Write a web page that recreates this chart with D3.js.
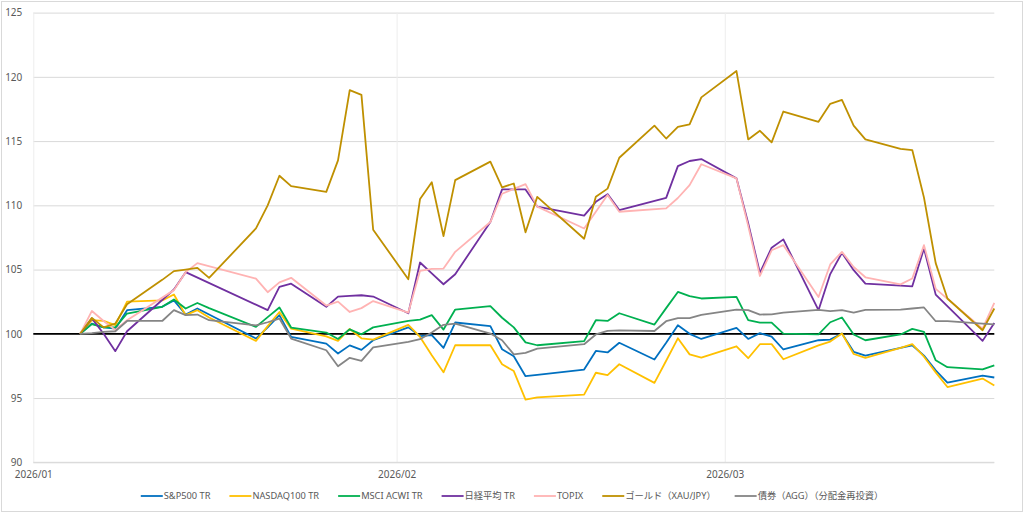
<!DOCTYPE html>
<html>
<head>
<meta charset="utf-8">
<script src="https://cdn.jsdelivr.net/npm/d3@7"></script>
<style>
  body { margin: 0; background: #fff; }
  text { font-family: "Noto Sans", "Noto Sans CJK JP", sans-serif; }
</style>
</head>
<body>
<div class="viz"></div>
<script>
const width = 1024;
const height = 513;

// trading days on the x axis
const dates = [
  "2026-01-05","2026-01-06","2026-01-07","2026-01-08","2026-01-09",
  "2026-01-12","2026-01-13","2026-01-14","2026-01-15","2026-01-16",
  "2026-01-19","2026-01-20","2026-01-21","2026-01-22","2026-01-23",
  "2026-01-26","2026-01-27","2026-01-28","2026-01-29","2026-01-30",
  "2026-02-02","2026-02-03","2026-02-04","2026-02-05","2026-02-06",
  "2026-02-09","2026-02-10","2026-02-11","2026-02-12","2026-02-13",
  "2026-02-16","2026-02-17","2026-02-18","2026-02-19","2026-02-20",
  "2026-02-23","2026-02-24","2026-02-25","2026-02-26","2026-02-27",
  "2026-03-02","2026-03-03","2026-03-04","2026-03-05","2026-03-06",
  "2026-03-09","2026-03-10","2026-03-11","2026-03-12","2026-03-13",
  "2026-03-16","2026-03-17","2026-03-18","2026-03-19","2026-03-20",
  "2026-03-23","2026-03-24"
];

// null = no value that day (holiday), the line just connects over it
const sp500 = [
  100, 100.8, 100.5, 100.4, 101.84,
  102.1, 102.6, 101.5, 101.97, 101.5,
  null, 99.63, 100.5, 101.45, 99.76,
  99.24, 98.47, 99.1, 98.75, 99.5,
  100.5, 99.82, 99.9, 98.9, 100.88,
  100.6, 98.8, 98.25, 96.7, 96.8,
  null, 97.22, 98.67, 98.55, 99.3,
  98.0, 99.3, 100.67, 100.0, 99.6,
  100.46, 99.6, 100.05, 99.78, 98.78,
  99.5, 99.55, 100.02, 98.6, 98.3,
  98.9, 99.11, 98.3, 97.15, 96.2,
  96.75, 96.6
];
const nasdaq100 = [
  100, 101.06, 101.0, 100.67, 102.5,
  102.6, 103.06, 101.45, 101.84, 101.27,
  null, 99.45, 100.6, 101.7, 100.4,
  99.8, 99.45, 100.38, 99.65, 99.55,
  100.7, 99.76, 98.33, 97.0, 99.11,
  99.11, 97.63, 97.1, 94.88, 95.05,
  null, 95.27, 96.97, 96.78, 97.63,
  96.18, 97.9, 99.65, 98.4, 98.15,
  99.03, 98.1, 99.19, 99.2, 98.02,
  99.1, 99.4, 100.02, 98.43, 98.13,
  98.9, 99.19, 98.22, 97.0, 95.86,
  96.52, 95.98
];
const acwi = [
  100, 100.75, 100.5, 100.5, 101.58,
  102.1, 102.67, 101.97, 102.4, 102.0,
  null, 100.54, 101.3, 102.05, 100.49,
  100.1, 99.6, 100.35, 99.96, 100.5,
  101.0, 101.11, 101.45, 100.33, 101.89,
  102.15, 101.25, 100.5, 99.33, 99.11,
  null, 99.43, 101.06, 101.0, 101.6,
  100.72, 102.0, 103.26, 102.93, 102.75,
  102.87, 101.06, 100.87, 100.87, 100.02,
  99.95, 100.9, 101.27, 99.95, 99.5,
  99.95, 100.38, 100.15, 97.94, 97.4,
  97.23, 97.55
];
const nikkei = [
  100, 101.2, 100.0, 98.65, 100.2,
  null, 103.45, 104.8, null, null,
  null, null, 101.84, 103.65, 103.9,
  102.1, 102.9, 102.95, 103.0, 102.9,
  101.6, 105.55, 104.7, 103.86, 104.64,
  108.7, 111.24, null, 111.24, 109.9,
  null, 109.2, 110.27, 110.87, 109.63,
  null, 110.58, 113.05, 113.45, 113.6,
  112.1, 108.6, 104.75, 106.7, 107.35,
  101.84, 104.65, 106.3, 104.95, 103.9,
  103.75, 103.7, 106.64, 103.05, null,
  99.45, 100.85
];
const topix = [
  100, 101.78, 101.0, 100.3, 101.06,
  null, 103.4, 104.8, 105.5, null,
  null, 104.3, 103.24, 104.0, 104.36,
  102.2, 102.5, 101.7, 102.0, 102.55,
  101.65, 104.9, 105.05, 105.08, 106.38,
  108.7, 110.9, null, 111.65, 109.9,
  null, 108.2, 109.5, 110.8, 109.5,
  null, 109.76, 110.57, 111.57, 113.2,
  112.1, 108.4, 104.5, 106.5, 106.9,
  102.87, 105.4, 106.38, 105.2, 104.4,
  103.85, 104.3, 106.9, 103.5, null,
  100.4, 102.4
];
const gold = [
  100, 101.24, 100.5, 100.8, 102.3,
  104.2, 104.88, 105.0, 105.13, 104.35,
  null, 108.2, 110.0, 112.3, 111.5,
  111.05, 113.5, 118.97, 118.6, 108.1,
  104.25, 110.5, 111.8, 107.6, 111.96,
  113.4, 111.4, 111.7, 107.9, 110.66,
  null, 107.4, 110.66, 111.3, 113.7,
  116.2, 115.2, 116.1, 116.3, 118.4,
  120.45, 115.13, 115.8, 114.9, 117.3,
  116.5, 117.9, 118.2, 116.2, 115.13,
  114.4, 114.3, 110.6, 105.5, 102.75,
  100.28, 101.97
];
const agg = [
  100, 100.05, 100.15, 100.2, 101.0,
  101.0, 101.84, 101.45, 101.5, 101.06,
  null, 100.65, 100.9, 101.19, 99.63,
  98.72, 97.48, 98.13, 97.89, 98.95,
  99.37, 99.58, 100.1, 100.7, 100.8,
  100.02, 99.5, 98.4, 98.52, 98.85,
  null, 99.19, 99.95, 100.23, 100.26,
  100.22, 100.98, 101.22, 101.22, 101.48,
  101.89, 101.85, 101.5, 101.52, 101.65,
  101.86, 101.76, 101.84, 101.65, 101.86,
  101.89, 101.97, 102.05, 100.98, 100.99,
  100.8, 100.73
];

const seriesNames = ["S&P500 TR", "NASDAQ100 TR", "MSCI ACWI TR", "日経平均 TR", "TOPIX", "ゴールド（XAU/JPY）", "債券（AGG）（分配金再投資）"];
const seriesValues = [sp500, nasdaq100, acwi, nikkei, topix, gold, agg];
const colors = ["#0070C0", "#FFC000", "#00B050", "#7030A0", "#FFB3B3", "#BF9000", "#858585"];

const yTicks = [90, 95, 100, 105, 110, 115, 120, 125];
const xTicks = ["2026-01-01", "2026-02-01", "2026-03-01"];
const xDomain = ["2026-01-01", "2026-03-24"];
const baseline = 100;

const parse = d3.utcParse("%Y-%m-%d");

const svg = d3.select(".viz")
    .append("svg")
    .attr("width", width)
    .attr("height", height);

svg.append("rect")
    .attr("x", 0).attr("y", 0)
    .attr("width", width).attr("height", height)
    .attr("fill", "#fff");

// outer chart border
svg.append("rect")
    .attr("x", 1.5).attr("y", 1.5)
    .attr("width", width - 3).attr("height", height - 3)
    .attr("fill", "none")
    .attr("stroke", "#D9D9D9");

const x = d3.scaleUtc()
    .domain(xDomain.map(parse))
    .range([33.3, 994.3]);

const y = d3.scaleLinear()
    .domain([90, 125])
    .range([462.3, 12.6]);

// horizontal grid + y labels
const yAxis = d3.axisLeft(y)
    .tickValues(yTicks)
    .tickSize(-(x.range()[1] - x.range()[0]))
    .tickPadding(11);

svg.append("g")
    .attr("transform", `translate(${x.range()[0]},0)`)
    .call(yAxis)
    .call(g => g.select(".domain").remove())
    .call(g => g.selectAll("line").attr("stroke", "#D9D9D9"))
    .call(g => g.selectAll("text")
        .attr("fill", "#595959")
        .style("font-size", "10px"));

// faint month lines + date labels
const xAxis = d3.axisBottom(x)
    .tickValues(xTicks.map(parse))
    .tickFormat(d3.utcFormat("%Y/%m"))
    .tickSize(-(y.range()[0] - y.range()[1]))
    .tickPadding(6);

svg.append("g")
    .attr("transform", `translate(0,${y.range()[0]})`)
    .call(xAxis)
    .call(g => g.select(".domain").remove())
    .call(g => g.selectAll("line").attr("stroke", "#EDEDED"))
    .call(g => g.selectAll("text")
        .attr("fill", "#595959")
        .attr("y", 7)
        .attr("dy", "0.9em")
        .style("font-size", "10px"));

// redraw the bottom gridline on top of the month lines
svg.append("line")
    .attr("x1", x.range()[0]).attr("x2", x.range()[1])
    .attr("y1", y(90)).attr("y2", y(90))
    .attr("stroke", "#D9D9D9");

// the 100 reference line
svg.append("line")
    .attr("x1", x.range()[0]).attr("x2", x.range()[1])
    .attr("y1", y(baseline)).attr("y2", y(baseline))
    .attr("stroke", "#000")
    .attr("stroke-width", 1.8);

const line = d3.line()
    .x(d => x(d.date))
    .y(d => y(d.value));

seriesValues.forEach((vals, i) => {
    const pts = dates
        .map((d, j) => ({ date: parse(d), value: vals[j] }))
        .filter(p => p.value !== null);
    svg.append("path")
        .datum(pts)
        .attr("fill", "none")
        .attr("stroke", colors[i])
        .attr("stroke-width", 1.8)
        .attr("stroke-linejoin", "round")
        .attr("d", line);
});

// legend, centred under the plot
const legend = svg.append("g");
let cursor = 0;
seriesNames.forEach((name, i) => {
    const item = legend.append("g").attr("transform", `translate(${cursor},0)`);
    item.append("line")
        .attr("x1", 0).attr("x2", 22)
        .attr("y1", 0).attr("y2", 0)
        .attr("stroke", colors[i])
        .attr("stroke-width", 1.8);
    const t = item.append("text")
        .attr("x", 23)
        .attr("dy", "0.35em")
        .attr("fill", "#595959")
        .style("font-size", "9.25px")
        .text(name);
    cursor += 23 + t.node().getComputedTextLength() + 19;
});
cursor -= 19;
legend.attr("transform", `translate(${(width - cursor) / 2},496)`);
</script>
</body>
</html>
